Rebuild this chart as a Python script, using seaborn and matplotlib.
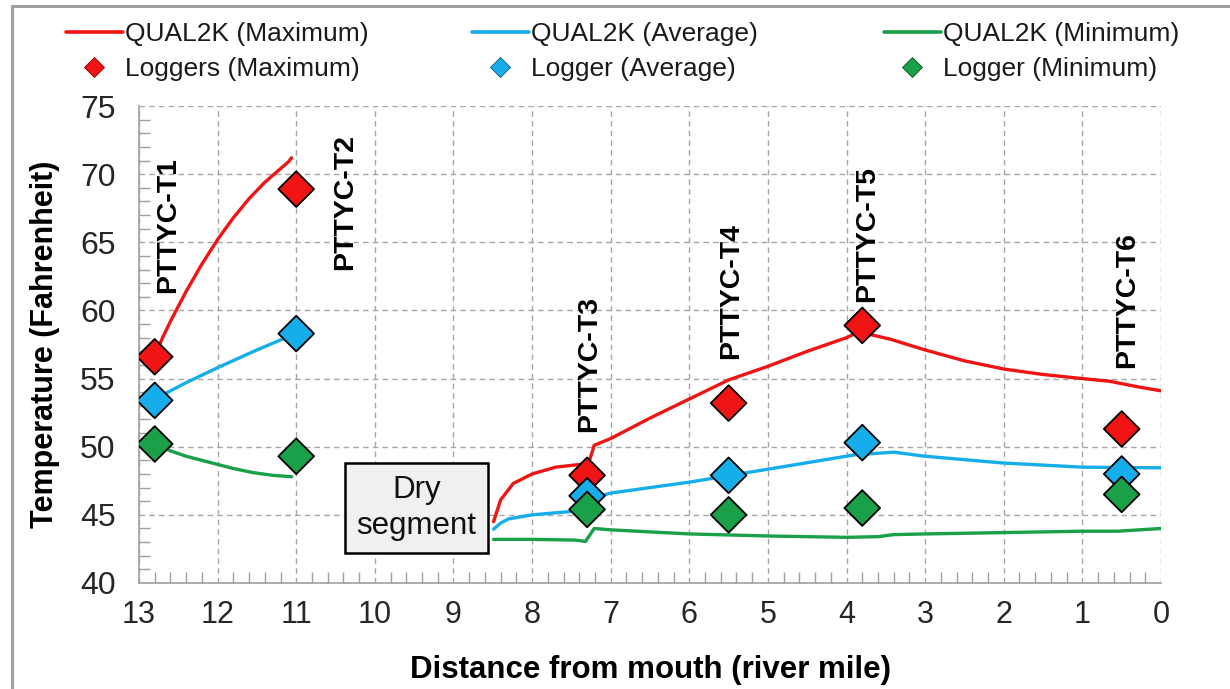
import numpy as np
import pandas as pd
import matplotlib
matplotlib.use("Agg")
import matplotlib.pyplot as plt
from matplotlib.lines import Line2D
from matplotlib.patches import Rectangle
from matplotlib.ticker import MultipleLocator
import seaborn as sns

# ---- QUAL2K model output (river mile, deg F), upstream reach ----
up_mile_max = [12.78, 12.7, 12.6, 12.5, 12.4, 12.3, 12.2, 12.1, 12.0, 11.9,
               11.8, 11.7, 11.6, 11.5, 11.4, 11.3, 11.2, 11.1, 11.06]
up_temp_max = [56.9, 58.0, 59.2, 60.3, 61.4, 62.4, 63.4, 64.3, 65.2, 66.0,
               66.8, 67.5, 68.2, 68.8, 69.4, 69.9, 70.4, 70.9, 71.2]
up_mile_avg = [12.8, 12.4, 12.0, 11.5, 11.05]
up_temp_avg = [53.5, 54.7, 55.8, 57.1, 58.2]
up_mile_min = [12.81, 12.6, 12.4, 12.2, 12.0, 11.8, 11.55, 11.3, 11.06]
up_temp_min = [50.2, 49.7, 49.3, 49.0, 48.7, 48.4, 48.1, 47.9, 47.8]

# ---- QUAL2K model output, downstream reach ----
dn_mile_max = [8.49, 8.40, 8.24, 8.0, 7.7, 7.39, 7.28, 7.21, 7.0, 6.5, 6.0, 5.5,
               5.0, 4.5, 4.0, 3.85, 3.75, 3.45, 3.0, 2.5, 2.0, 1.5, 1.0, 0.65,
               0.3, 0.0]
dn_temp_max = [44.5, 46.1, 47.3, 48.0, 48.5, 48.7, 48.8, 50.1, 50.6, 52.1, 53.5,
               54.9, 55.9, 57.0, 58.0, 58.4, 58.3, 57.9, 57.1, 56.3, 55.7, 55.3,
               55.0, 54.8, 54.4, 54.1]
dn_mile_avg = [8.49, 8.40, 8.30, 8.0, 7.7, 7.39, 7.30, 7.15, 7.0, 6.0, 5.0, 3.9,
               3.4, 3.0, 2.0, 1.0, 0.0]
dn_temp_avg = [43.95, 44.4, 44.7, 45.0, 45.15, 45.3, 46.1, 46.35, 46.6, 47.4,
               48.35, 49.4, 49.6, 49.3, 48.8, 48.5, 48.45]
dn_mile_min = [8.49, 8.0, 7.45, 7.32, 7.21, 7.0, 6.0, 5.0, 4.0, 3.6, 3.4, 3.0,
               2.0, 1.0, 0.55, 0.0]
dn_temp_min = [43.2, 43.2, 43.15, 43.05, 44.0, 43.9, 43.6, 43.45, 43.35, 43.4,
               43.55, 43.6, 43.7, 43.8, 43.8, 44.0]

# ---- Logger observations ----
stations = ["PTTYC-T1", "PTTYC-T2", "PTTYC-T3", "PTTYC-T4", "PTTYC-T5", "PTTYC-T6"]
station_mile = [12.8, 11.0, 7.3, 5.5, 3.8, 0.5]
logger_max = [56.6, 68.9, 47.9, 53.2, 58.9, 51.3]
logger_avg = [53.4, 58.3, 46.4, 47.9, 50.3, 48.0]
logger_min = [50.2, 49.3, 45.4, 45.0, 45.5, 46.5]

# station label anchors (label bottom, deg F) and x position
label_mile = [12.63, 10.38, 7.28, 5.47, 3.74, 0.43]
label_base = [61.3, 63.0, 51.1, 56.4, 60.6, 55.8]

RED, BLUE, GREEN = "#f01414", "#16aeea", "#19a048"

# assemble long-form tables
rows = []
for seg, (m, t) in enumerate([(up_mile_max, up_temp_max), (dn_mile_max, dn_temp_max)]):
    rows += [("max", seg, a, b) for a, b in zip(m, t)]
for seg, (m, t) in enumerate([(up_mile_avg, up_temp_avg), (dn_mile_avg, dn_temp_avg)]):
    rows += [("avg", seg, a, b) for a, b in zip(m, t)]
for seg, (m, t) in enumerate([(up_mile_min, up_temp_min), (dn_mile_min, dn_temp_min)]):
    rows += [("min", seg, a, b) for a, b in zip(m, t)]
model = pd.DataFrame(rows, columns=["stat", "segment", "mile", "temp"])

obs = pd.DataFrame({
    "mile": station_mile * 3,
    "temp": logger_max + logger_avg + logger_min,
    "stat": ["max"] * 6 + ["avg"] * 6 + ["min"] * 6,
})
palette = {"max": RED, "avg": BLUE, "min": GREEN}

sns.set_theme(style="white")
plt.rcParams["font.family"] = ["Liberation Sans", "DejaVu Sans"]

fig = plt.figure(figsize=(12.3, 6.89), dpi=100)
ax = fig.add_axes([139 / 1230, 1 - 583 / 689, (1161 - 139) / 1230, (583 - 106) / 689])

sns.lineplot(data=model, x="mile", y="temp", hue="stat", units="segment",
             estimator=None, sort=False, palette=palette, linewidth=2.4,
             legend=False, ax=ax, zorder=3)
sns.scatterplot(data=obs, x="mile", y="temp", hue="stat", palette=palette,
                marker="D", s=330, edgecolor="black", linewidth=1.3,
                legend=False, ax=ax, zorder=4)

ax.set_xlim(13, 0)
ax.set_ylim(40, 75)
ax.xaxis.set_major_locator(MultipleLocator(1))
ax.xaxis.set_minor_locator(MultipleLocator(0.2))
ax.yaxis.set_major_locator(MultipleLocator(5))
ax.yaxis.set_minor_locator(MultipleLocator(1))
ax.grid(True, which="major", linestyle=(0, (4, 3)), color="#a6a6a6", linewidth=1.0)
for side in ["top", "right"]:
    ax.spines[side].set_visible(False)
for side in ["left", "bottom"]:
    ax.spines[side].set_color("#a0a0a0")
    ax.spines[side].set_linewidth(1.2)
ax.tick_params(which="both", direction="in", color="#a0a0a0", width=1.0,
               bottom=True, left=True)
ax.tick_params(which="major", length=0)
ax.tick_params(which="minor", length=8)
ax.tick_params(axis="y", which="major", labelsize=23, pad=17, labelcolor="#262626")
ax.tick_params(axis="x", which="major", labelsize=22, pad=12, labelcolor="#262626")

ax.set_xlabel("Distance from mouth (river mile)", fontsize=22.5, fontweight="bold",
              labelpad=18, color="black")
ax.set_ylabel("Temperature (Fahrenheit)", fontsize=22, fontweight="bold",
              labelpad=14, color="black")

for name, xm, yb in zip(stations, label_mile, label_base):
    ax.text(xm, yb, name, rotation=90, ha="center", va="bottom",
            fontsize=20.5, fontweight="bold", color="black", zorder=5)

ax.text(9.47, 45.5, "Dry\nsegment", ha="center", va="center", fontsize=22.5,
        linespacing=1.25, color="#111111", zorder=6,
        bbox=dict(boxstyle="square,pad=0.38", facecolor="#f0f0f0",
                  edgecolor="black", linewidth=1.8))


def diamond(color, edge):
    return Line2D([], [], color=color, marker="D", ls="none", markersize=10,
                  markeredgecolor=edge, markeredgewidth=0.6)


legend_cols = [
    ([Line2D([], [], color=RED, lw=2.6), diamond(RED, "#7a0000")],
     ["QUAL2K (Maximum)", "Loggers (Maximum)"], 66),
    ([Line2D([], [], color=BLUE, lw=2.6), diamond(BLUE, "#0a5a7a")],
     ["QUAL2K (Average)", "Logger (Average)"], 472),
    ([Line2D([], [], color=GREEN, lw=2.6), diamond(GREEN, "#0a5020")],
     ["QUAL2K (Minimum)", "Logger (Minimum)"], 884),
]
for hs, ls, x0 in legend_cols:
    fig.legend(hs, ls, ncol=1, loc="upper left",
               bbox_to_anchor=(x0 / 1230, 1 - 22 / 689), frameon=False,
               fontsize=19, handlelength=2.15, handletextpad=0.1,
               labelspacing=0.42, borderaxespad=0, borderpad=0,
               labelcolor="#1a1a1a")

# chart-area border
fig.patches.append(Rectangle((12 / 1230, -0.05), 1.2, 1 - 6 / 689 + 0.05,
                             transform=fig.transFigure, fill=False,
                             edgecolor="#a0a0a0", linewidth=2.2, zorder=0))

fig.savefig("out.png", dpi=100)
